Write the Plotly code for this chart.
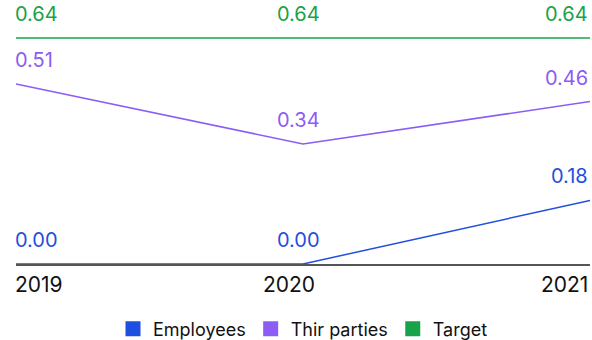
import plotly.graph_objects as go

years = ["2019", "2020", "2021"]
employees = [0.00, 0.00, 0.18]
third_parties = [0.51, 0.34, 0.46]
target = [0.64, 0.64, 0.64]

series = [
    ("Employees", employees, "#1f4fe0"),
    ("Thir parties", third_parties, "#8b5cf6"),
    ("Target", target, "#16a34a"),
]

FONT = "Inter, Liberation Sans, Arial, sans-serif"

fig = go.Figure()
xpos = list(range(len(years)))
anchors = ["left", "center", "right"]
val_xshifts = [-3, -5, 0]
year_xshifts = [-3, -14, 0]

annotations = []
for name, vals, color in series:
    fig.add_trace(go.Scatter(x=xpos, y=vals, mode="lines", name=name,
                             line=dict(color=color, width=1.5),
                             showlegend=False, hoverinfo="skip"))
    fig.add_trace(go.Scatter(x=[None], y=[None], mode="markers", name=name,
                             marker=dict(symbol="square", size=15, color=color),
                             showlegend=True))
    for i, v in enumerate(vals):
        annotations.append(dict(x=xpos[i], y=v, xref="x", yref="y",
                                text=f"{v:.2f}", showarrow=False,
                                xanchor=anchors[i], yanchor="bottom",
                                xshift=val_xshifts[i], yshift=10,
                                font=dict(family=FONT, size=20, color=color)))

for i, yr in enumerate(years):
    annotations.append(dict(x=xpos[i], y=0, xref="x", yref="paper",
                            text=yr, showarrow=False,
                            xanchor=anchors[i], yanchor="top",
                            xshift=year_xshifts[i], yshift=-6,
                            font=dict(family=FONT, size=21, color="#111111")))

fig.update_layout(
    width=592, height=340,
    margin=dict(l=16, r=2, t=10, b=76, autoexpand=False),
    paper_bgcolor="white", plot_bgcolor="white",
    annotations=annotations,
    xaxis=dict(range=[0, 2], showgrid=False, zeroline=False,
               showticklabels=False, showline=True, linecolor="#555555",
               linewidth=2, fixedrange=True),
    yaxis=dict(range=[0, 0.7193], showgrid=False, zeroline=False,
               showticklabels=False, showline=False, fixedrange=True),
    legend=dict(orientation="h", x=0.5, xanchor="center",
                yref="container", y=0.032, yanchor="middle",
                itemsizing="trace",
                font=dict(family=FONT, size=18, color="#111111")),
    showlegend=True,
)

fig.write_html("out.html", config={"displayModeBar": False},
               post_script="document.body.style.margin='0';")
